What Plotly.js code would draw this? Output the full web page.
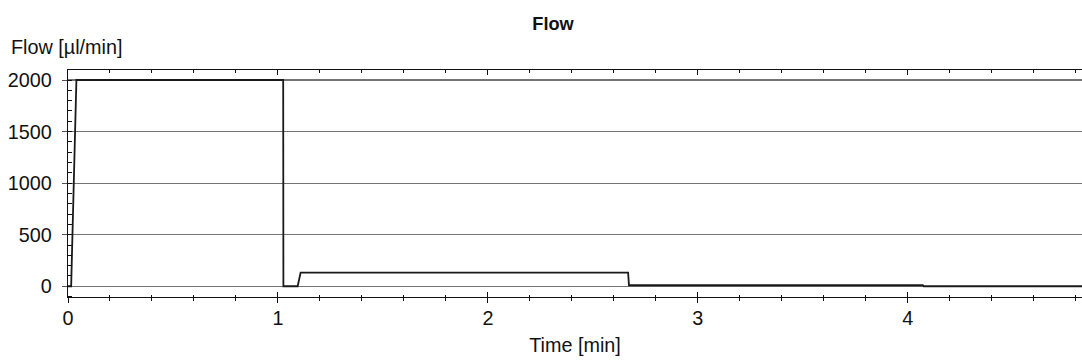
<!DOCTYPE html>
<html>
<head>
<meta charset="utf-8">
<script src="https://cdn.plot.ly/plotly-3.0.1.min.js"></script>
<style>html,body{margin:0;padding:0;background:#fff;}#chart{width:1082px;height:361px;}</style>
</head>
<body>
<div id="chart"></div>
<script>
// Flow trace (time in min, flow in µl/min)
const timeMin = [0, 0.015, 0.04, 1.025, 1.026, 1.094, 1.108, 2.668, 2.672, 4.072, 4.076, 4.83];
const flowUlMin = [0, 0, 2000, 2000, 0, 0, 133, 133, 10, 10, 0, 0];

const xRange = [0, 4.83];
const yRange = [-104, 2097];
const chartTitle = 'Flow';
const xTitle = 'Time [min]';
const yTitle = 'Flow [µl/min]';

const font = {family: 'Liberation Sans, Arial, sans-serif', size: 19.8, color: '#111'};

const traces = [
  {x: timeMin, y: flowUlMin, type: 'scatter', mode: 'lines',
   line: {color: '#1a1a1a', width: 1.8}, hoverinfo: 'skip', showlegend: false},
  {x: [], y: [], type: 'scatter', xaxis: 'x2', yaxis: 'y', showlegend: false},
  {x: [], y: [], type: 'scatter', xaxis: 'x3', yaxis: 'y', showlegend: false}
];

const layout = {
  width: 1082, height: 361,
  margin: {l: 68, r: 0, t: 70, b: 64},
  paper_bgcolor: '#fff', plot_bgcolor: '#fff',
  font: font,
  showlegend: false,
  title: {text: '<b>' + chartTitle + '</b>', x: 553/1082, xanchor: 'center', xref: 'container',
          y: 1 - 24/361, yanchor: 'middle', yref: 'container',
          font: {family: 'Liberation Sans, Arial, sans-serif', size: 18.2, color: '#111'}},
  xaxis: {
    range: xRange, dtick: 1, tick0: 0, showgrid: false, zeroline: false,
    showline: true, linecolor: '#111', linewidth: 1.2,
    ticks: 'inside', ticklen: 5, tickcolor: '#111', tickwidth: 1,
    minor: {dtick: 0.2, ticks: 'inside', ticklen: 2.5, tickcolor: '#111', tickwidth: 1, showgrid: false},
    ticklabelstandoff: 3,
    title: {text: xTitle, standoff: 10, font: font}
  },
  xaxis2: {
    matches: 'x', overlaying: 'x', anchor: 'y', side: 'bottom',
    showline: false, showgrid: false, zeroline: false, showticklabels: false,
    ticks: 'outside', ticklen: 5, tickcolor: '#111', tickwidth: 1, dtick: 1, tick0: 0,
    minor: {dtick: 0.2, ticks: 'outside', ticklen: 2.5, tickcolor: '#111', tickwidth: 1}
  },
  xaxis3: {
    matches: 'x', overlaying: 'x', anchor: 'y', side: 'top',
    showline: true, linecolor: '#111', linewidth: 1.2,
    showgrid: false, zeroline: false, showticklabels: false,
    ticks: 'inside', ticklen: 5, tickcolor: '#111', tickwidth: 1, dtick: 1, tick0: 0,
    minor: {dtick: 0.2, ticks: 'inside', ticklen: 3, tickcolor: '#111', tickwidth: 1}
  },
  yaxis: {
    range: yRange, dtick: 500, tick0: 0,
    showgrid: true, gridcolor: '#747474', gridwidth: 1.2,
    zeroline: false,
    showline: true, linecolor: '#111', linewidth: 1.2,
    ticks: 'outside', ticklen: 5, tickcolor: '#555', tickwidth: 1,
    minor: {dtick: 100, ticks: 'inside', ticklen: 4, tickcolor: '#111', tickwidth: 1, showgrid: false},
    ticklabelstandoff: 6
  },
  annotations: [
    {text: yTitle, xref: 'paper', yref: 'paper', x: (9 - 68)/1014, y: 1 + (70 - 47)/227,
     xanchor: 'left', yanchor: 'middle', showarrow: false, font: font}
  ]
};

Plotly.newPlot('chart', traces, layout, {staticPlot: true, displayModeBar: false});
</script>
</body>
</html>
